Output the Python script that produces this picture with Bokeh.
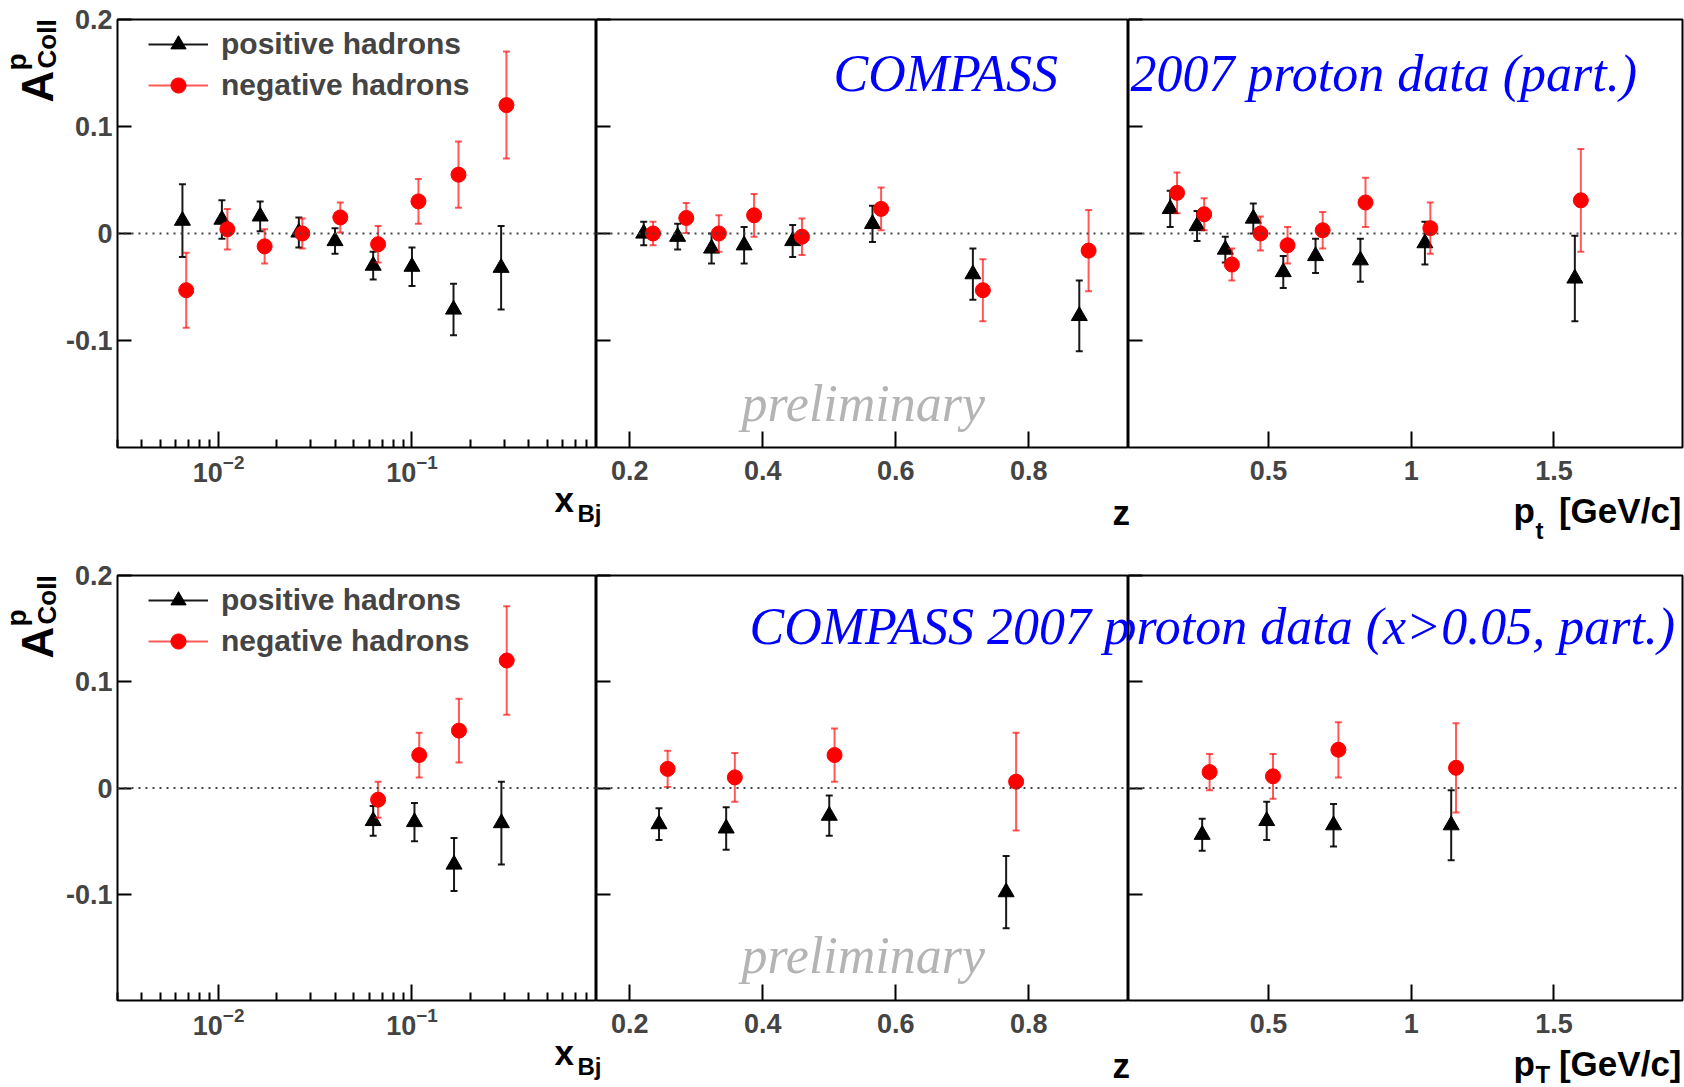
import math
from bokeh.plotting import figure
from bokeh.models import Range1d, FixedTicker, Label, Legend, LegendItem, Span
from bokeh.layouts import column, row
from bokeh.embed import file_html
from bokeh.resources import INLINE

# ---------------- data ----------------
# top row: full sample
xbj_pos_x = [0.0065, 0.0104, 0.0164, 0.026, 0.040, 0.063, 0.100, 0.164, 0.289]
xbj_pos_y = [0.012, 0.013, 0.016, 0.001, -0.007, -0.030, -0.031, -0.071, -0.032]
xbj_pos_e = [0.034, 0.018, 0.014, 0.014, 0.012, 0.013, 0.018, 0.024, 0.039]
xbj_neg_x = [0.0068, 0.0111, 0.0173, 0.0271, 0.0426, 0.0668, 0.108, 0.174, 0.308]
xbj_neg_y = [-0.053, 0.004, -0.012, 0.000, 0.015, -0.010, 0.030, 0.055, 0.120]
xbj_neg_e = [0.035, 0.019, 0.016, 0.014, 0.014, 0.017, 0.021, 0.031, 0.050]

z_pos_x = [0.221, 0.272, 0.323, 0.372, 0.445, 0.565, 0.716, 0.876]
z_pos_y = [0.000, -0.003, -0.014, -0.011, -0.007, 0.009, -0.038, -0.077]
z_pos_e = [0.011, 0.012, 0.014, 0.017, 0.015, 0.017, 0.024, 0.033]
z_neg_x = [0.235, 0.285, 0.334, 0.387, 0.459, 0.578, 0.731, 0.890]
z_neg_y = [0.000, 0.0145, 0.000, 0.017, -0.003, 0.023, -0.053, -0.016]
z_neg_e = [0.011, 0.014, 0.017, 0.020, 0.017, 0.020, 0.029, 0.038]

pt_pos_x = [0.156, 0.250, 0.349, 0.447, 0.552, 0.665, 0.822, 1.048, 1.573]
pt_pos_y = [0.023, 0.007, -0.015, 0.014, -0.036, -0.021, -0.025, -0.009, -0.042]
pt_pos_e = [0.017, 0.014, 0.012, 0.014, 0.015, 0.016, 0.020, 0.020, 0.040]
pt_neg_x = [0.180, 0.275, 0.372, 0.472, 0.567, 0.690, 0.840, 1.067, 1.594]
pt_neg_y = [0.038, 0.018, -0.029, 0.000, -0.011, 0.003, 0.029, 0.005, 0.031]
pt_neg_e = [0.019, 0.015, 0.015, 0.016, 0.017, 0.017, 0.023, 0.024, 0.048]

# bottom row: x > 0.05
xbjc_pos_x = [0.063, 0.103, 0.165, 0.290]
xbjc_pos_y = [-0.031, -0.032, -0.072, -0.033]
xbjc_pos_e = [0.014, 0.018, 0.025, 0.039]
xbjc_neg_x = [0.0668, 0.109, 0.175, 0.309]
xbjc_neg_y = [-0.011, 0.031, 0.054, 0.120]
xbjc_neg_e = [0.017, 0.021, 0.030, 0.051]

zc_pos_x = [0.244, 0.345, 0.500, 0.766]
zc_pos_y = [-0.034, -0.038, -0.026, -0.098]
zc_pos_e = [0.015, 0.020, 0.019, 0.034]
zc_neg_x = [0.257, 0.358, 0.508, 0.781]
zc_neg_y = [0.018, 0.010, 0.031, 0.006]
zc_neg_e = [0.017, 0.023, 0.025, 0.046]

ptc_pos_x = [0.268, 0.494, 0.728, 1.140]
ptc_pos_y = [-0.044, -0.031, -0.035, -0.035]
ptc_pos_e = [0.015, 0.018, 0.020, 0.033]
ptc_neg_x = [0.294, 0.516, 0.745, 1.157]
ptc_neg_y = [0.015, 0.011, 0.036, 0.019]
ptc_neg_e = [0.017, 0.021, 0.026, 0.042]

y_ticks = [-0.1, 0.0, 0.1, 0.2]
y_tick_labels = ["-0.1", "0", "0.1", "0.2"]
xbj_ticks = [0.01, 0.1]
xbj_minor = [m * 10.0 ** e for e in (-3, -2, -1) for m in range(2, 10)]
z_ticks = [0.2, 0.4, 0.6, 0.8]
z_tick_labels = ["0.2", "0.4", "0.6", "0.8"]
pt_ticks = [0.5, 1.0, 1.5]
pt_tick_labels = ["0.5", "1", "1.5"]

legend_labels = ["positive hadrons", "negative hadrons"]

SANS = "Liberation Sans"
SERIF = "Liberation Serif"
BLACK_BAR = "#000000"
RED = "#ff0000"

YSTRIP_W = 62
ROW1_H, ROW1_TOP, ROW1_BOT = 492, 19, 45
ROW2_H, ROW2_TOP, ROW2_BOT = 486, 15, 46
OVERLAP = 25                      # x-title strips reach up over the tick-label band
XSTRIP1_H = 560 - ROW1_H + OVERLAP
XSTRIP2_H = 1087 - 560 - ROW2_H + OVERLAP


def text(p, x, y, s, size, font=SANS, style="bold", color="black",
         align="left", angle=0.0):
    """Place text so that its baseline sits at screen y (label anchored at middle)."""
    k = 0.3375 if font == SERIF else 0.3465
    p.add_layout(Label(x=x, y=y + k * size, x_units="screen", y_units="screen", text=s,
                       text_font=font, text_font_style=style,
                       text_font_size=f"{size}px", text_color=color,
                       text_align=align, text_baseline="middle", angle=angle))


def vtext(p, frame_bottom, x_base, start_y, s, size):
    """Rotated text reading upward, starting at local page-y start_y."""
    p.add_layout(Label(x=x_base - 0.35 * size, y=frame_bottom - start_y,
                       x_units="screen", y_units="screen", text=s, text_font=SANS,
                       text_font_style="bold", text_font_size=f"{size}px",
                       text_color="black", text_align="left", text_baseline="middle",
                       angle=math.pi / 2))


def strip(width, height, **extra):
    p = figure(width=width, height=height, output_backend="svg", toolbar_location=None,
               title=None, x_range=Range1d(0, 1), y_range=Range1d(0, 1),
               x_axis_location=None, y_axis_location=None,
               min_border_left=0, min_border_right=0, min_border_top=0,
               min_border_bottom=0, background_fill_alpha=0, border_fill_alpha=0,
               **extra)
    p.outline_line_color = None
    p.grid.visible = False
    return p


def make_fig(kind, top_row, width, left, right):
    if top_row:
        height, btop, bbot = ROW1_H, ROW1_TOP, ROW1_BOT
    else:
        height, btop, bbot = ROW2_H, ROW2_TOP, ROW2_BOT
    kw = dict(width=width, height=height, output_backend="svg", toolbar_location=None,
              title=None, y_range=Range1d(-0.2, 0.2), min_border_left=left,
              min_border_right=right, min_border_top=btop, min_border_bottom=bbot,
              background_fill_color="white", border_fill_color="white")
    if kind == "xbj":
        p = figure(x_axis_type="log", x_range=Range1d(0.003, 0.9), **kw)
    elif kind == "z":
        p = figure(x_range=Range1d(0.15, 0.95), **kw)
    else:
        p = figure(x_range=Range1d(0.01, 1.95), **kw)
    p.grid.visible = False
    p.outline_line_color = "black"
    p.outline_line_width = 2
    p.outline_line_alpha = 1.0

    xa = p.xaxis[0]
    xa.axis_line_color = None
    xa.major_tick_in = 16
    xa.major_tick_out = 0
    xa.major_tick_line_width = 2
    xa.minor_tick_line_width = 2
    xa.major_label_text_font = SANS
    xa.major_label_text_font_style = "bold"
    xa.major_label_text_font_size = "27px"
    xa.major_label_standoff = 13
    if kind == "xbj":
        xa.ticker = FixedTicker(ticks=xbj_ticks, minor_ticks=xbj_minor)
        xa.minor_tick_in = 8
        xa.minor_tick_out = 0
        xa.major_label_standoff = 6
    elif kind == "z":
        xa.ticker = FixedTicker(ticks=z_ticks, minor_ticks=[])
        xa.major_label_overrides = dict(zip(z_ticks, z_tick_labels))
        xa.minor_tick_in = 0
        xa.minor_tick_out = 0
    else:
        xa.ticker = FixedTicker(ticks=pt_ticks, minor_ticks=[])
        xa.major_label_overrides = dict(zip(pt_ticks, pt_tick_labels))
        xa.minor_tick_in = 0
        xa.minor_tick_out = 0

    ya = p.yaxis[0]
    ya.axis_line_color = None
    ya.ticker = FixedTicker(ticks=y_ticks, minor_ticks=[])
    ya.major_tick_in = 14
    ya.major_tick_out = 0
    ya.major_tick_line_width = 2
    ya.minor_tick_in = 0
    ya.minor_tick_out = 0
    if kind == "xbj":
        ya.major_label_overrides = dict(zip(y_ticks, y_tick_labels))
        ya.major_label_text_font = SANS
        ya.major_label_text_font_style = "bold"
        ya.major_label_text_font_size = "27px"
        ya.major_label_standoff = 5
    else:
        ya.major_label_text_font_size = "1px"
        ya.major_label_text_color = None
        ya.major_label_standoff = 0
    p.add_layout(Span(location=0, dimension="width", line_color="#444444",
                      line_width=2, line_dash="2 5"))
    return p, height - btop - bbot


def add_series(p, xs, ys, es, color, marker, size, bar_alpha):
    lo = [y - e for y, e in zip(ys, es)]
    hi = [y + e for y, e in zip(ys, es)]
    seg = p.segment(x0=xs, y0=lo, x1=xs, y1=hi, line_color=color,
                    line_width=2, line_alpha=bar_alpha)
    p.scatter(x=xs + xs, y=lo + hi, marker="dash", size=7, line_color=color,
              line_width=2, line_alpha=bar_alpha)
    sc = p.scatter(x=xs, y=ys, marker=marker, size=size, fill_color=color,
                   line_color=color)
    return seg, sc


def xbj_panel(top_row, px, py, pe, nx, ny, ne):
    p, fh = make_fig("xbj", top_row, 596 - YSTRIP_W, 114 - YSTRIP_W, 0)
    s1, m1 = add_series(p, px, py, pe, BLACK_BAR, "triangle", 16, 0.9)
    s2, m2 = add_series(p, nx, ny, ne, RED, "circle", 15, 0.65)
    leg = Legend(items=[LegendItem(label=legend_labels[0], renderers=[s1, m1]),
                        LegendItem(label=legend_labels[1], renderers=[s2, m2])],
                 location=(31, fh - 85), padding=0, margin=0, spacing=3,
                 glyph_width=60, glyph_height=38, label_height=38, label_standoff=13,
                 label_text_font=SANS, label_text_font_style="bold",
                 label_text_font_size="30px", border_line_alpha=0,
                 background_fill_alpha=0)
    p.add_layout(leg)
    return p


def z_panel(top_row, px, py, pe, nx, ny, ne, title):
    p, fh = make_fig("z", top_row, 532, 0, 0)
    add_series(p, px, py, pe, BLACK_BAR, "triangle", 16, 0.9)
    add_series(p, nx, ny, ne, RED, "circle", 15, 0.65)
    if top_row:
        text(p, 237, fh - 72, title, 52, font=SERIF, style="italic", color="#0000ff")
        text(p, 145, 26, "preliminary", 52, font=SERIF, style="italic", color="#b4b4b4")
    else:
        text(p, 153, fh - 69, title, 52, font=SERIF, style="italic", color="#0000ff")
        text(p, 145, 27, "preliminary", 52, font=SERIF, style="italic", color="#b4b4b4")
    return p


def pt_panel(top_row, px, py, pe, nx, ny, ne, title):
    p, fh = make_fig("pt", top_row, 556, 0, 2)
    add_series(p, px, py, pe, BLACK_BAR, "triangle", 16, 0.9)
    add_series(p, nx, ny, ne, RED, "circle", 15, 0.65)
    if top_row:
        text(p, 2, fh - 72, title, 52, font=SERIF, style="italic", color="#0000ff")
    else:
        text(p, -18, fh - 69, title, 52, font=SERIF, style="italic", color="#0000ff")
    return p


def ytitle_strip(height, top_off, bot_off):
    s = strip(YSTRIP_W, height)
    fb = height - bot_off   # the strip's frame is aligned with the panels' frames
    # A^p_Coll, rotated to read upward
    vtext(s, fb, 52, top_off + 83, "A", 44)
    vtext(s, fb, 26, top_off + 51, "p", 28)
    vtext(s, fb, 56, top_off + 49, "Coll", 26)
    return s


def xtitle_strip(height, bottom_page, sub, frame_bottom, sub_off):
    s = strip(1684, height, margin=(-OVERLAP, 0, 0, 0))

    def base(page_y):
        return bottom_page - page_y

    text(s, 554, base(frame_bottom + 64), "x", 35)
    text(s, 577, base(frame_bottom + 74), "Bj", 24)
    text(s, 1112, base(frame_bottom + 77), "z", 35)
    text(s, 1513, base(frame_bottom + 75), "p", 35)
    text(s, 1535, base(frame_bottom + sub_off), sub, 24)
    text(s, 1681, base(frame_bottom + 75), "[GeV/c]", 35, align="right")
    return s


ys1 = ytitle_strip(ROW1_H, ROW1_TOP, ROW1_BOT)
f1 = xbj_panel(True, xbj_pos_x, xbj_pos_y, xbj_pos_e, xbj_neg_x, xbj_neg_y, xbj_neg_e)
f2 = z_panel(True, z_pos_x, z_pos_y, z_pos_e, z_neg_x, z_neg_y, z_neg_e, "COMPASS")
f3 = pt_panel(True, pt_pos_x, pt_pos_y, pt_pos_e, pt_neg_x, pt_neg_y, pt_neg_e,
              "2007 proton data (part.)")
xs1 = xtitle_strip(XSTRIP1_H, 560, "t", ROW1_H - ROW1_BOT, 91)

ys2 = ytitle_strip(ROW2_H, ROW2_TOP, ROW2_BOT)
f4 = xbj_panel(False, xbjc_pos_x, xbjc_pos_y, xbjc_pos_e, xbjc_neg_x, xbjc_neg_y, xbjc_neg_e)
f5 = z_panel(False, zc_pos_x, zc_pos_y, zc_pos_e, zc_neg_x, zc_neg_y, zc_neg_e,
             "COMPASS 2007 p")
f6 = pt_panel(False, ptc_pos_x, ptc_pos_y, ptc_pos_e, ptc_neg_x, ptc_neg_y, ptc_neg_e,
              "proton data (x>0.05, part.)")
xs2 = xtitle_strip(XSTRIP2_H, 1087, "T", 560 + ROW2_H - ROW2_BOT, 82)

layout = column(row(ys1, f1, f2, f3, spacing=0), xs1,
                row(ys2, f4, f5, f6, spacing=0), xs2, spacing=0)
open("out.html", "w").write(file_html(layout, INLINE))
